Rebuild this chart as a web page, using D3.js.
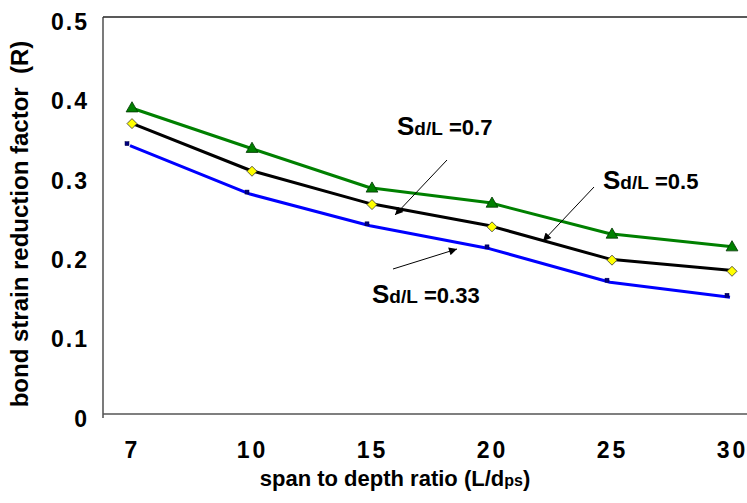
<!DOCTYPE html>
<html>
<head>
<meta charset="utf-8">
<title>bond strain reduction factor</title>
<style>
body { margin: 0; background: #fff; }
text { font-family: "Liberation Sans", Arial, sans-serif; font-weight: bold; fill: #000; }
</style>
</head>
<body>
<script src="https://cdn.jsdelivr.net/npm/d3@7"></script>
<script>
// span to depth ratio categories
var ratios = ["7", "10", "15", "20", "25", "30"];
var yTicks = [0, 0.1, 0.2, 0.3, 0.4, 0.5];

// R values, one list per Sd/L
var r07  = [0.386, 0.335, 0.285, 0.266, 0.227, 0.211];
var r05  = [0.367, 0.307, 0.265, 0.237, 0.195, 0.181];
var r033 = [0.338, 0.277, 0.237, 0.208, 0.166, 0.147];

var width = 747, height = 503;
var plotLeft = 103, plotTop = 17, plotBottom = 414, plotRight = 747;

var svg = d3.select("body").append("svg")
    .attr("width", width)
    .attr("height", height);

var x = d3.scalePoint()
    .domain(ratios)
    .range([130, 730]);

var y = d3.scaleLinear()
    .domain([0, 0.5])
    .range([plotBottom, plotTop]);

// frame: top border, left and bottom axes
svg.append("line")
    .attr("x1", plotLeft).attr("x2", plotRight)
    .attr("y1", plotTop).attr("y2", plotTop)
    .style("stroke", "#222").style("stroke-width", 1.5);

var yAxis = svg.append("g")
    .attr("transform", "translate(" + plotLeft + ",0)")
    .call(d3.axisLeft(y).tickValues(yTicks).tickSize(0).tickPadding(14)
        .tickFormat(function(d) { return d === 0 ? "0" : d3.format(".1f")(d); }));
yAxis.select(".domain").remove();
yAxis.selectAll("text")
    .attr("dy", "0.36em")
    .attr("y", 4)
    .style("font-size", "23px")
    .style("letter-spacing", "2px")
    .style("font-family", "Liberation Sans, Arial, sans-serif")
    .style("font-weight", "bold");

svg.append("line")
    .attr("x1", plotLeft).attr("x2", plotLeft)
    .attr("y1", plotTop).attr("y2", plotBottom + 4)
    .style("stroke", "#333").style("stroke-width", 1.3);

svg.append("line")
    .attr("x1", plotLeft).attr("x2", plotRight)
    .attr("y1", plotBottom).attr("y2", plotBottom)
    .style("stroke", "#555").style("stroke-width", 1.3);

var xAxis = svg.append("g")
    .attr("transform", "translate(0," + plotBottom + ")")
    .call(d3.axisBottom(x).tickSize(0).tickPadding(28));
xAxis.select(".domain").remove();
xAxis.selectAll("text")
    .attr("dx", 2)
    .style("font-size", "23px")
    .style("letter-spacing", "3px")
    .style("font-family", "Liberation Sans, Arial, sans-serif")
    .style("font-weight", "bold");

// axis titles
svg.append("text")
    .attr("x", 395)
    .attr("y", 486)
    .attr("text-anchor", "middle")
    .style("font-size", "22px")
    .call(function(t) {
        t.append("tspan").text("span to depth ratio (L/d");
        t.append("tspan").style("font-size", "16px").text("ps");
        t.append("tspan").text(")");
    });

svg.append("text")
    .attr("transform", "translate(28,224) rotate(-90)")
    .attr("text-anchor", "middle")
    .style("font-size", "24px")
    .style("white-space", "pre")
    .text("bond strain reduction factor  (R)");

// series
var series = [
    { values: r07,  color: "#008000", shape: "triangle", dx: 2,  dy: 1 },
    { values: r05,  color: "#000000", shape: "diamond",  dx: 2,  dy: 1 },
    { values: r033, color: "#0000ff", shape: "square",   dx: -3, dy: -2 }
];

var line = d3.line()
    .x(function(d, i) { return x(ratios[i]); })
    .y(function(d) { return y(d); });

series.forEach(function(s) {
    svg.append("path")
        .datum(s.values)
        .attr("d", line)
        .style("fill", "none")
        .style("stroke", s.color)
        .style("stroke-width", 3)
        .style("stroke-linejoin", "round");
});

series.forEach(function(s) {
    var g = svg.append("g");
    s.values.forEach(function(v, i) {
        var cx = x(ratios[i]) + s.dx, cy = y(v) + s.dy;
        if (s.shape === "triangle") {
            g.append("path")
                .attr("d", d3.symbol().type(d3.symbolTriangle).size(60)())
                .attr("transform", "translate(" + cx + "," + cy + ")")
                .style("fill", "#008000").style("stroke", "#003300").style("stroke-width", 0.8);
        } else if (s.shape === "diamond") {
            g.append("path")
                .attr("d", "M0,-5L5,0L0,5L-5,0Z")
                .attr("transform", "translate(" + cx + "," + cy + ")")
                .style("fill", "#ffff00").style("stroke", "#333").style("stroke-width", 0.8);
        } else {
            g.append("rect")
                .attr("x", cx - 2).attr("y", cy - 2)
                .attr("width", 4).attr("height", 4)
                .style("fill", "#000080").style("stroke", "#000040").style("stroke-width", 0.5);
        }
    });
});

// annotations with arrows
svg.append("defs").append("marker")
    .attr("id", "arrow")
    .attr("viewBox", "0 0 10 10")
    .attr("refX", 10).attr("refY", 5)
    .attr("markerWidth", 10).attr("markerHeight", 8)
    .attr("markerUnits", "userSpaceOnUse")
    .attr("orient", "auto")
    .append("path")
    .attr("d", "M0,0L10,5L0,10Z")
    .style("fill", "#000");

var notes = [
    { label: "0.7",  tx: 397, ty: 135, x1: 447, y1: 160, x2: 395, y2: 215 },
    { label: "0.5",  tx: 603, ty: 189, x1: 594, y1: 187, x2: 543, y2: 241 },
    { label: "0.33", tx: 372, ty: 303, x1: 393, y1: 269, x2: 457, y2: 249 }
];

notes.forEach(function(n) {
    svg.append("line")
        .attr("x1", n.x1).attr("y1", n.y1)
        .attr("x2", n.x2).attr("y2", n.y2)
        .style("stroke", "#000").style("stroke-width", 1)
        .attr("marker-end", "url(#arrow)");
    var t = svg.append("text")
        .attr("x", n.tx).attr("y", n.ty)
        .style("white-space", "pre");
    t.append("tspan").style("font-size", "26px").text("S");
    t.append("tspan").style("font-size", "19px").text("d/L");
    t.append("tspan").style("font-size", "22px").text(" =" + n.label);
});
</script>
</body>
</html>
